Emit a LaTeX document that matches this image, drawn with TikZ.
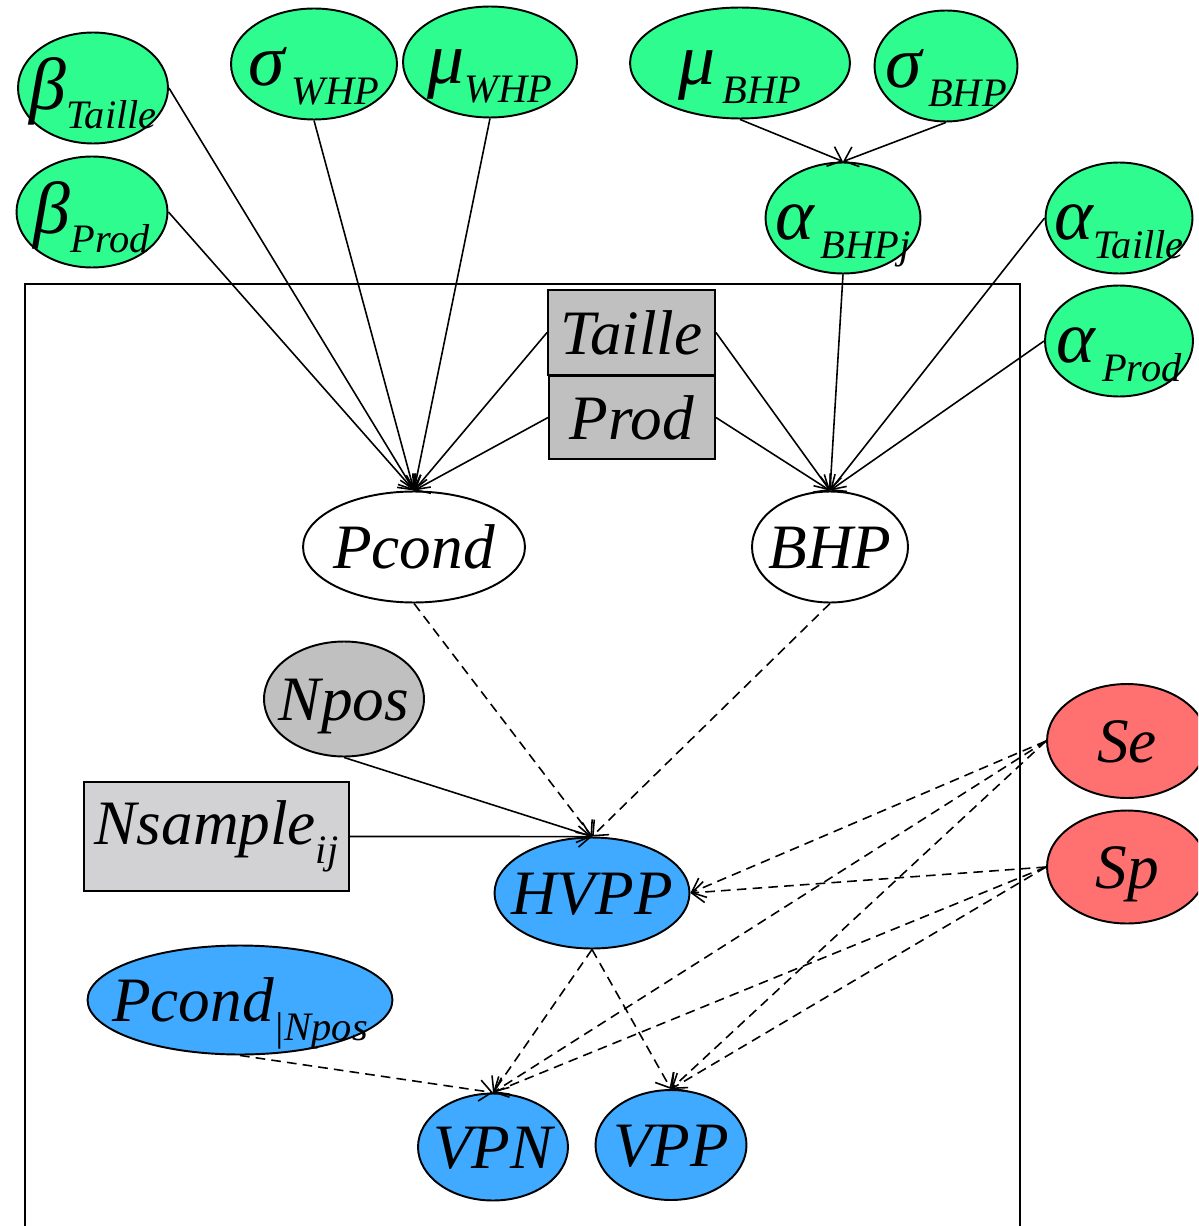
\documentclass[tikz,border=0pt]{standalone}
\usepackage{fontspec}
\setmainfont{Liberation Serif}
\usepackage{tikz}
\usetikzlibrary{shapes.geometric,arrows.meta}

\definecolor{prior}{HTML}{2EFC8F}
\definecolor{derived}{HTML}{3FAAFF}
\definecolor{test}{HTML}{FF7070}
\definecolor{obs}{HTML}{C0C0C0}
\definecolor{sample}{HTML}{D2D1D3}

\newcommand{\lowtxt}[1]{\raisebox{-0.3em}{\fontsize{23}{25}\selectfont #1}}
\newcommand{\midtxt}[1]{\makebox[0pt]{#1}}
\newcommand{\grk}[1]{{\fontsize{42}{44}\selectfont #1}}

\begin{document}
\begin{tikzpicture}[x=0.02cm, y=-0.02cm,
  font=\rmfamily\fontsize{36}{40}\selectfont\itshape,
  >={Straight Barb[length=7pt,width=12pt]}]
  \tikzstyle{var} = [ellipse, draw, line width=1.1pt, inner sep=0pt,
  text height=24pt, text depth=0pt, minimum height=2.22cm]
  \tikzstyle{data} = [rectangle, draw, line width=1.1pt, inner sep=0pt, fill=obs]
  \tikzstyle{stoch} = [->, line width=0.9pt]
  \tikzstyle{logic} = [->, line width=0.9pt, dash pattern=on 5.5pt off 3.5pt]

  \clip (0,0) rectangle (1198,1226);

  % plate
  \draw[line width=1.1pt] (25,1240) -- (25,284) -- (1020,284) -- (1020,1240);

  % Define nodes
  \node[var, fill=prior, minimum width=3cm] (bTaille) at (93,88) {\midtxt{\grk{β}\lowtxt{Taille}}};
  \node[var, fill=prior, minimum width=3.02cm] (bProd) at (92,212) {\midtxt{\grk{β}\lowtxt{Prod}}};
  \node[var, fill=prior, minimum width=3.32cm] (sWHP) at (314,64) {\midtxt{\grk{σ}\lowtxt{\,WHP}}};
  \node[var, fill=prior, minimum width=3.48cm] (mWHP) at (490,62) {\midtxt{\grk{μ}\lowtxt{WHP}}};
  \node[var, fill=prior, minimum width=4.4cm] (mBHP) at (740,63) {\midtxt{\grk{μ}\lowtxt{\,BHP}}};
  \node[var, fill=prior, minimum width=2.86cm] (sBHP) at (946,66) {\midtxt{\grk{σ}\lowtxt{\,BHP}}};
  \node[var, fill=prior, minimum width=3.1cm] (aBHPj) at (843,218) {\midtxt{\grk{α}\lowtxt{\,BHPj}}};
  \node[var, fill=prior, minimum width=2.94cm] (aTaille) at (1119,218) {\midtxt{\grk{α}\lowtxt{Taille}}};
  \node[var, fill=prior, minimum width=2.96cm] (aProd) at (1119,341) {\midtxt{\grk{α}\lowtxt{\,Prod}}};

  \node[data, minimum width=3.34cm, minimum height=1.7cm] (Taille) at (631.5,332.5) {Taille};
  \node[data, minimum width=3.32cm, minimum height=1.66cm] (Prod) at (632,417.5) {Prod};

  \node[var, fill=white, minimum width=4.44cm] (Pcond) at (414,547) {\midtxt{Pcond}};
  \node[var, fill=white, minimum width=3.12cm] (BHP) at (830,547) {\midtxt{BHP}};
  \node[var, fill=obs, minimum width=3.2cm, minimum height=2.3cm] (Npos) at (344,699) {\midtxt{Npos}};
  \node[data, fill=sample, minimum width=5.3cm, minimum height=2.18cm] (Nsample) at (216.5,836.5)
    {Nsample\lowtxt{ij}};
  \node[var, fill=derived, minimum width=3.9cm] (HVPP) at (592,893) {\midtxt{HVPP}};
  \node[var, fill=derived, minimum width=6.1cm, minimum height=2.18cm] (PcondN) at (240,1000)
    {\midtxt{Pcond\lowtxt{|Npos}}};
  \node[var, fill=derived, minimum width=3cm, minimum height=2.14cm] (VPN) at (493,1147) {\midtxt{VPN}};
  \node[var, fill=derived, minimum width=3.02cm, minimum height=2.2cm] (VPP) at (671,1145) {\midtxt{VPP}};
  \node[var, fill=test, minimum width=3.2cm, minimum height=2.28cm] (Se) at (1127,741) {\midtxt{Se}};
  \node[var, fill=test, minimum width=3.2cm, minimum height=2.26cm] (Sp) at (1127,867) {\midtxt{Sp}};

  % stochastic links
  \path
    [stoch] (bTaille.east) edge (Pcond.north)
    [stoch] (bProd.east) edge (Pcond.north)
    [stoch] (sWHP.south) edge (Pcond.north)
    [stoch] (mWHP.south) edge (Pcond.north)
    [stoch] (Taille.west) edge (Pcond.north)
    [stoch] (Prod.west) edge (Pcond.north)
    [stoch] (Taille.east) edge (BHP.north)
    [stoch] (Prod.east) edge (BHP.north)
    [stoch] (aBHPj.south) edge (BHP.north)
    [stoch] (aTaille.west) edge (BHP.north)
    [stoch] (aProd.west) edge (BHP.north)
    [stoch] (mBHP.south) edge (aBHPj.north)
    [stoch] (sBHP.south) edge (aBHPj.north)
    [stoch] (Npos.south) edge (HVPP.north)
    [stoch] (Nsample.east) edge (HVPP.north);

  % logical links
  \path
    [logic] (Pcond.south) edge (HVPP.north)
    [logic] (BHP.south) edge (HVPP.north)
    [logic] (HVPP.south) edge (VPN.north)
    [logic] (HVPP.south) edge (VPP.north)
    [logic] (PcondN.south) edge (VPN.north)
    [logic] (Se.west) edge (HVPP.east)
    [logic] (Se.west) edge (VPN.north)
    [logic] (Se.west) edge (VPP.north)
    [logic] (Sp.west) edge (HVPP.east)
    [logic] (Sp.west) edge (VPN.north)
    [logic] (Sp.west) edge (VPP.north);
\end{tikzpicture}
\end{document}
